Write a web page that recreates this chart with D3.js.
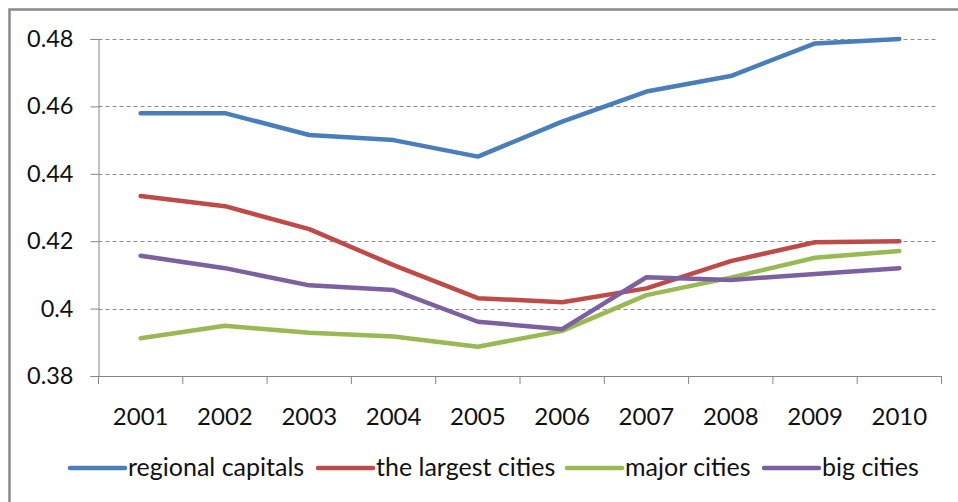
<!DOCTYPE html>
<html>
<head>
<meta charset="utf-8">
<script src="https://cdn.jsdelivr.net/npm/d3@7"></script>
<style>
    body { margin: 0; background: #fff; }
    svg { display: block; font-family: Lato, "Open Sans", sans-serif; }
</style>
</head>
<body>
<div id="chart"></div>
<script>
// Years on the x axis
const years = ["2001", "2002", "2003", "2004", "2005", "2006", "2007", "2008", "2009", "2010"]

// Values
const regionalCapitals = [0.458, 0.458, 0.4515, 0.450, 0.4451, 0.4555, 0.4644, 0.469, 0.4787, 0.480]
const largestCities = [0.4334, 0.4304, 0.4236, 0.4129, 0.4031, 0.4019, 0.406, 0.4141, 0.4197, 0.420]
const majorCities = [0.3912, 0.3949, 0.3928, 0.3917, 0.3887, 0.3934, 0.404, 0.4092, 0.4151, 0.4171]
const bigCities = [0.4157, 0.412, 0.4069, 0.4055, 0.3961, 0.3939, 0.4093, 0.4085, 0.4103, 0.412]

const seriesNames = ["regional capitals", "the largest cities", "major cities", "big cities"]
const seriesColors = ["#4A7EBB", "#BE4B48", "#98B954", "#7D60A0"]
const yTicks = [0.38, 0.40, 0.42, 0.44, 0.46, 0.48]

const series = [regionalCapitals, largestCities, majorCities, bigCities].map((values, i) => ({
    name: seriesNames[i],
    color: seriesColors[i],
    values: values
}))

const width = 958, height = 502
const margin = { top: 39, right: 16.5, bottom: 126, left: 98.5 }

const svg = d3.select("#chart")
    .append("svg")
    .attr("width", width)
    .attr("height", height)

// Chart border (right and bottom edges fall outside the picture)
svg.append("rect")
    .attr("x", 9.5)
    .attr("y", 9.5)
    .attr("width", width + 20)
    .attr("height", height + 20)
    .attr("fill", "none")
    .attr("stroke", "#898989")
    .attr("stroke-width", 2.5)

const x = d3.scaleBand()
    .domain(years)
    .range([margin.left, width - margin.right])

const y = d3.scaleLinear()
    .domain([0.38, 0.48])
    .range([height - margin.bottom, margin.top])

// Dashed gridlines
svg.append("g")
    .selectAll("line")
    .data(yTicks.slice(1))
    .join("line")
    .attr("x1", margin.left)
    .attr("x2", width - margin.right - 3)
    .attr("y1", d => Math.round(y(d)) + 0.5)
    .attr("y2", d => Math.round(y(d)) + 0.5)
    .attr("stroke", "#8c8c8c")
    .attr("stroke-width", 1)
    .attr("stroke-dasharray", "4,3")

// Y axis
svg.append("g")
    .attr("class", "y-axis")
    .attr("transform", `translate(${margin.left},0)`)
    .call(d3.axisLeft(y).tickValues(yTicks).tickSize(8).tickPadding(17)
        .tickFormat(d => d3.format(".2f")(d).replace(/0$/, "")))

// X axis
const xAxis = svg.append("g")
    .attr("class", "x-axis")
    .attr("transform", `translate(0,${height - margin.bottom})`)
    .call(d3.axisBottom(x).tickSize(0).tickPadding(32))

// X ticks between categories
xAxis.selectAll(".sep")
    .data(d3.range(years.length + 1))
    .join("line")
    .attr("class", "sep")
    .attr("x1", i => margin.left + i * x.step())
    .attr("x2", i => margin.left + i * x.step())
    .attr("y1", 0)
    .attr("y2", 8)
    .attr("stroke", "#868686")

svg.selectAll(".domain, .tick line")
    .attr("stroke", "#868686")
svg.selectAll(".tick text")
    .attr("fill", "#111")
    .attr("font-family", "Lato, sans-serif")
svg.selectAll(".y-axis .tick text").attr("font-size", 23.5)
svg.selectAll(".x-axis .tick text").attr("font-size", 24)

// Lines
const line = d3.line()
    .x((d, i) => x(years[i]) + x.bandwidth() / 2)
    .y(d => y(d))

svg.append("g")
    .selectAll("path")
    .data(series)
    .join("path")
    .attr("d", d => line(d.values))
    .attr("fill", "none")
    .attr("stroke", d => d.color)
    .attr("stroke-width", 4.5)
    .attr("stroke-linejoin", "round")
    .attr("stroke-linecap", "round")

// Legend
const legendX = [70, 318, 567, 764]
const legend = svg.append("g")
    .selectAll("g")
    .data(series)
    .join("g")
    .attr("transform", (d, i) => `translate(${legendX[i]},468)`)

legend.append("line")
    .attr("x1", 0)
    .attr("x2", 55)
    .attr("stroke", d => d.color)
    .attr("stroke-width", 4.5)
    .attr("stroke-linecap", "round")

legend.append("text")
    .attr("x", 58)
    .attr("y", 8)
    .attr("font-size", 25)
    .attr("fill", "#111")
    .text(d => d.name)
</script>
</body>
</html>
